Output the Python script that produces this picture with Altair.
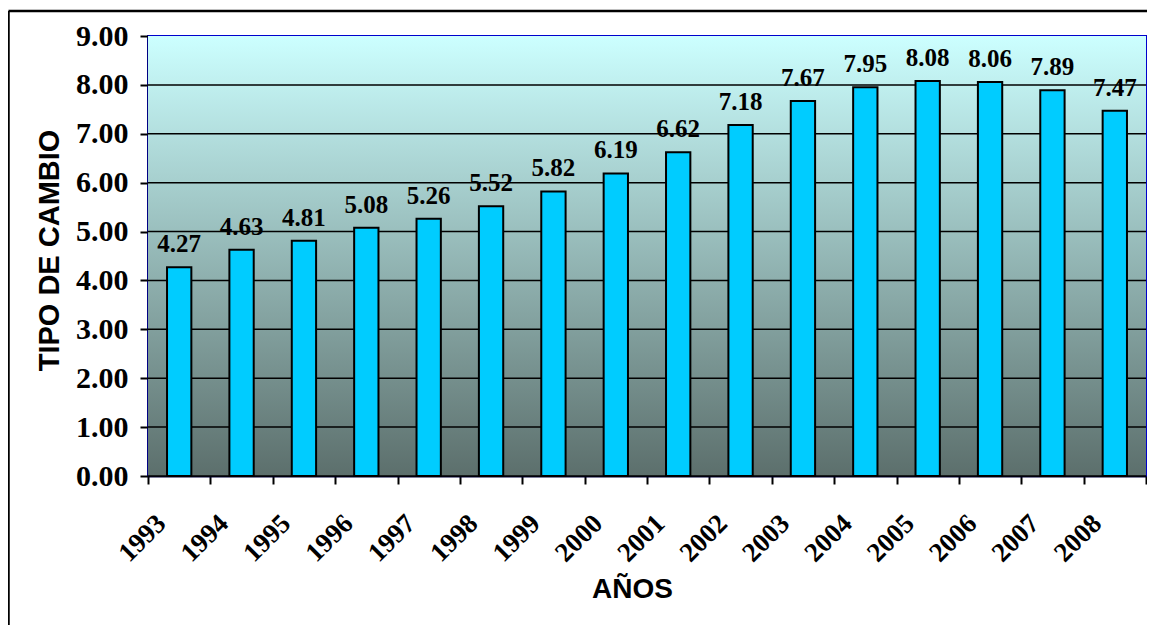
import altair as alt
import pandas as pd

years = ["1993", "1994", "1995", "1996", "1997", "1998", "1999", "2000",
         "2001", "2002", "2003", "2004", "2005", "2006", "2007", "2008"]
values = [4.27, 4.63, 4.81, 5.08, 5.26, 5.52, 5.82, 6.19,
          6.62, 7.18, 7.67, 7.95, 8.08, 8.06, 7.89, 7.47]
y_ticks = [0, 1, 2, 3, 4, 5, 6, 7, 8, 9]

df = pd.DataFrame({"year": years, "value": values})
grid_df = pd.DataFrame({"t": y_ticks})

W, H = 998, 440
SERIF = "Liberation Serif"
SANS = "Liberation Sans"

x_enc = alt.X(
    "year:N",
    sort=years,
    scale=alt.Scale(paddingInner=0, paddingOuter=0),
    axis=alt.Axis(
        title="AÑOS",
        titleFont=SANS, titleFontSize=28, titleFontWeight="bold", titleColor="black",
        titleX=484, titleY=121, titleAlign="center", titleBaseline="alphabetic",
        labelFont=SERIF, labelFontSize=27, labelFontWeight="bold", labelColor="black",
        labelAngle=315, labelAlign="right", labelBaseline="middle",
        labelOffset=-18, labelPadding=35, labelOverlap=False,
        tickBand="extent", tickSize=8, tickColor="black", tickWidth=2,
        domainColor="#00003A", domainWidth=2, grid=False,
    ),
)
y_scale = alt.Scale(domain=[0, 9], nice=False, zero=True)
y_enc = alt.Y(
    "value:Q",
    scale=y_scale,
    axis=alt.Axis(
        title="TIPO DE CAMBIO",
        titleFont=SANS, titleFontSize=29, titleFontWeight="bold", titleColor="black",
        titleX=-99, titleY=214, titleAlign="center", titleBaseline="middle", titleAngle=270,
        values=y_ticks, format=".2f",
        labelFont=SERIF, labelFontSize=30, labelFontWeight="bold", labelColor="black",
        labelPadding=12,
        tickSize=8, tickColor="black", tickWidth=2,
        domainColor="#00003A", domainWidth=2,
        grid=False,
    ),
)

one = pd.DataFrame({"a": [0]})

background = alt.Chart(one).mark_rect(
    color=alt.LinearGradient(
        gradient="linear",
        stops=[alt.GradientStop(color="#CCFFFF", offset=0),
               alt.GradientStop(color="#5C6F6C", offset=1)],
        x1=0, x2=0, y1=0, y2=1,
    ),
).encode(x=alt.value(0), x2=alt.value(W), y=alt.value(0), y2=alt.value(H))

grid = alt.Chart(grid_df).transform_filter("datum.t < 9").mark_rule(
    color="black", strokeWidth=1.5
).encode(y=alt.Y("t:Q", scale=y_scale), x=alt.value(0), x2=alt.value(W))

base = alt.Chart(df)

bars = base.mark_bar(
    width=alt.RelativeBandSize(0.39),
    color="#00CCFF", stroke="black", strokeWidth=2,
).encode(x=x_enc, y=y_enc)

labels = base.mark_text(
    font=SERIF, fontSize=25, fontWeight="bold", color="black",
    baseline="alphabetic", align="center", dy=-15,
).encode(
    x=alt.X("year:N", sort=years),
    y=alt.Y("value:Q"),
    text=alt.Text("value:Q", format=".2f"),
)

frame_top = alt.Chart(one).mark_rule(color="black", strokeWidth=2.5).encode(
    x=alt.value(-139.5), x2=alt.value(1010), y=alt.value(-25)
)
frame_left = alt.Chart(one).mark_rule(color="black", strokeWidth=2.5).encode(
    x=alt.value(-139.5), y=alt.value(-25), y2=alt.value(600)
)

chart = alt.layer(background, grid, bars, labels, frame_top, frame_left).properties(
    width=W, height=H,
    autosize=alt.AutoSizeParams(type="none"),
    padding={"left": 140, "top": 28, "right": 1, "bottom": 149},
    background="white",
).configure_view(
    stroke="#0000CC", strokeWidth=2,
).configure_axis(zindex=1)

chart.save("out.html", embed_options={"renderer": "svg", "actions": False})
